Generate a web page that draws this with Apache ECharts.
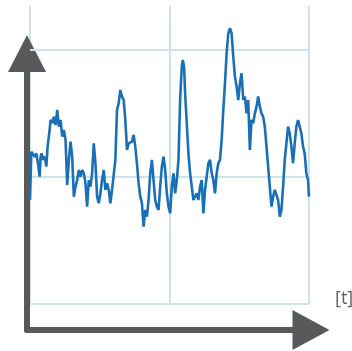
<!DOCTYPE html>
<html>
<head>
<meta charset="utf-8">
<script src="https://cdn.jsdelivr.net/npm/echarts@6/dist/echarts.min.js"></script>
<style>html,body{margin:0;padding:0;background:#fff}#c{width:352px;height:351px}</style>
</head>
<body>
<div id="c"></div>
<script>
// time positions (arbitrary units, 0..840)
var times = [
  0,4,9,14,19,24,29,32,35,40,45,49,
  53,58,
  62,67,72,77,82,87,92,97,102,107,112,117,122,127,132,137,142,147,152,157,
  162,167,172,177,182,187,192,197,202,207,212,217,222,227,232,237,242,247,252,257,
  262,267,272,277,282,287,292,297,302,307,312,317,322,327,332,337,342,347,352,357,
  362,367,372,377,382,387,392,397,402,407,412,417,422,427,432,437,442,447,452,457,
  460,464,
  467,472,477,482,487,492,497,502,507,512,517,522,527,532,537,542,547,552,557,562,
  567,572,577,582,587,592,597,602,607,612,617,622,627,632,637,642,647,652,657,662,
  667,672,677,682,687,692,697,702,707,712,717,722,727,732,737,742,747,752,757,762,
  767,772,777,782,787,792,797,802,807,812,817,822,827,832,837,
  840
];
var signal = [
  0.819,1.199,1.213,1.160,1.186,1.108,1.003,1.160,1.186,1.134,1.160,1.081,
  1.239,1.344,
  1.449,1.423,1.475,1.409,1.528,1.396,1.449,1.318,1.370,1.291,
  0.937,1.134,1.278,1.160,0.845,0.924,0.976,1.055,1.003,1.055,
  1.029,0.950,0.766,0.976,0.924,1.029,1.265,1.108,0.845,0.793,
  0.871,0.976,1.055,0.898,0.950,0.898,0.793,0.898,0.898,1.134,
  1.528,1.580,1.685,1.633,1.606,1.449,1.213,1.265,1.265,1.278,
  1.331,1.239,1.108,0.950,0.845,0.793,0.609,0.740,0.688,0.819,
  1.029,1.134,0.976,0.819,0.766,0.740,0.924,1.081,1.160,1.055,
  0.871,0.766,0.714,0.924,1.029,0.871,0.976,1.134,1.606,1.869,
  1.921,1.869,
  1.659,1.423,1.186,1.029,0.924,0.819,0.845,0.871,0.819,0.924,
  0.976,0.714,0.898,1.003,1.108,1.134,1.029,0.976,0.871,1.029,
  1.108,1.134,1.291,1.528,1.738,1.974,2.131,2.171,2.131,1.948,
  1.790,1.711,1.606,1.738,1.816,1.606,1.633,1.501,1.606,1.213,
  1.449,1.423,1.501,1.554,1.633,1.554,1.501,1.475,1.396,1.239,
  1.081,0.924,0.766,0.845,0.898,0.911,0.819,0.688,0.740,0.924,
  1.134,1.265,1.396,1.344,1.239,1.108,1.265,1.396,1.449,1.396,
  1.344,1.239,1.186,1.029,0.976,
  0.845
];
var gridLevels = [0, 1, 2];
var axisName = '[t]';

var points = times.map(function (t, i) { return [t, signal[i]]; });
var gridColor = '#cfe2e9';
var axisColor = '#58595b';

var chart = echarts.init(document.getElementById('c'), null, {renderer: 'canvas'});
chart.setOption({
  animation: false,
  backgroundColor: '#ffffff',
  title: {
    text: axisName, left: 335, top: 290, padding: 0,
    textStyle: {fontSize: 18, fontWeight: 'normal', color: '#5f5f5f', fontFamily: 'Open Sans'}
  },
  grid: [
    {left: 30, right: 43, top: 6, bottom: 47},
    {left: 27, right: 41, top: 53.5, bottom: 21}
  ],
  xAxis: [
    {
      type: 'value', gridIndex: 0, min: 0, max: 840, interval: 420,
      axisLine: {show: false}, axisTick: {show: false}, axisLabel: {show: false},
      splitLine: {show: true, lineStyle: {color: gridColor, width: 2}}
    },
    {
      type: 'value', gridIndex: 1, min: 0, max: 1,
      axisLine: {show: true, onZero: false, symbol: ['none', 'triangle'], symbolSize: [40, 37],
        lineStyle: {color: axisColor, width: 6}},
      axisTick: {show: false}, axisLabel: {show: false}, splitLine: {show: false}
    }
  ],
  yAxis: [
    {
      type: 'value', gridIndex: 0, min: 0, max: 2.346,
      axisLine: {show: false}, axisTick: {show: false}, axisLabel: {show: false},
      splitLine: {show: false}
    },
    {
      type: 'value', gridIndex: 1, min: 0, max: 1,
      axisLine: {show: true, onZero: false, symbol: ['none', 'triangle'], symbolSize: [38, 37],
        lineStyle: {color: axisColor, width: 6}},
      axisTick: {show: false}, axisLabel: {show: false}, splitLine: {show: false}
    }
  ],
  series: [
    {
      type: 'line', xAxisIndex: 0, yAxisIndex: 0, z: 1,
      data: [],
      markLine: {
        silent: true, symbol: 'none', z: 1, label: {show: false},
        lineStyle: {color: gridColor, width: 2, type: 'solid'},
        data: gridLevels.map(function (v) { return {yAxis: v}; })
      }
    },
    {
      type: 'line', xAxisIndex: 0, yAxisIndex: 0, z: 3,
      data: points, showSymbol: false, smooth: false,
      lineStyle: {color: '#1b6fb5', width: 2.6}
    }
  ]
});
</script>
</body>
</html>
